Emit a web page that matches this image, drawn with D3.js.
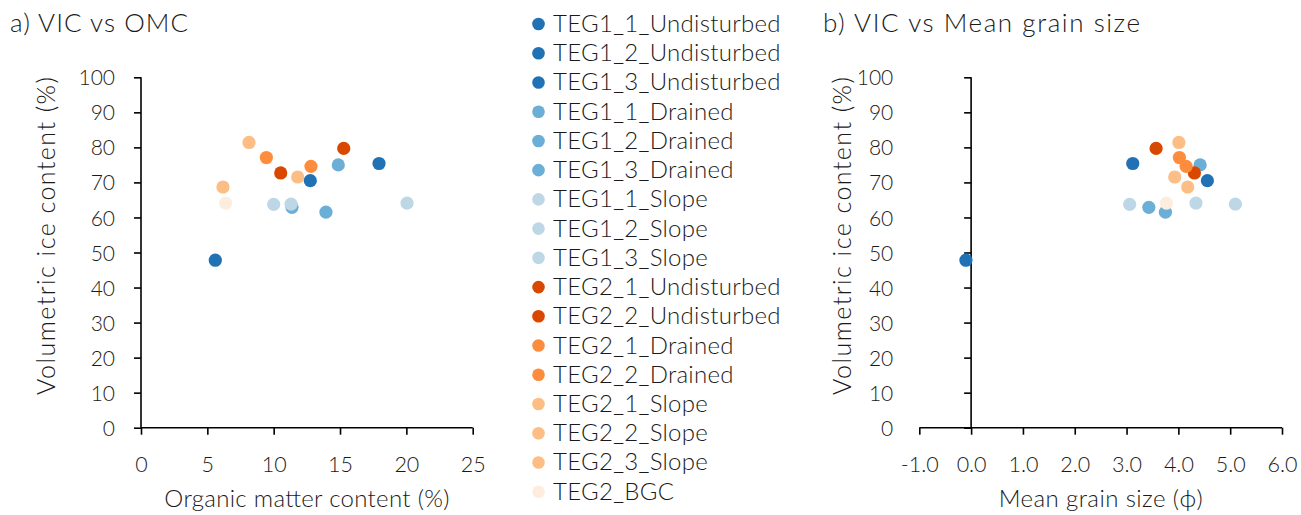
<!DOCTYPE html>
<html>
<head>
<meta charset="utf-8">
<script src="https://cdn.jsdelivr.net/npm/d3@7"></script>
<style>
  html, body { margin: 0; padding: 0; background: #fff; }
  svg text { font-family: "Lato", "Open Sans", sans-serif; font-weight: 300; fill: #1a1a1a; }
</style>
</head>
<body>
<svg id="chart" width="1301" height="515"></svg>
<script>
// ---- data ----
const seriesNames = [
  "TEG1_1_Undisturbed", "TEG1_2_Undisturbed", "TEG1_3_Undisturbed",
  "TEG1_1_Drained", "TEG1_2_Drained", "TEG1_3_Drained",
  "TEG1_1_Slope", "TEG1_2_Slope", "TEG1_3_Slope",
  "TEG2_1_Undisturbed", "TEG2_2_Undisturbed",
  "TEG2_1_Drained", "TEG2_2_Drained",
  "TEG2_1_Slope", "TEG2_2_Slope", "TEG2_3_Slope",
  "TEG2_BGC"
];
const seriesGroup = [
  "T1U", "T1U", "T1U", "T1D", "T1D", "T1D", "T1S", "T1S", "T1S",
  "T2U", "T2U", "T2D", "T2D", "T2S", "T2S", "T2S", "BGC"
];
// Organic matter content (%)
const omcValues   = [5.6, 12.76, 17.94, 14.87, 11.38, 13.94, 10.0, 11.31, 20.05, 10.53, 15.28, 9.45, 12.81, 8.14, 11.81, 6.18, 6.38];
// Volumetric ice content (%)
const vicValues   = [47.8, 70.5, 75.4, 75.0, 62.9, 61.5, 63.75, 63.8, 64.1, 72.7, 79.7, 77.1, 74.6, 81.4, 71.55, 68.7, 64.1];
// Mean grain size (phi)
const grainValues = [-0.10, 4.56, 3.12, 4.42, 3.43, 3.75, 3.06, 5.10, 4.34, 4.31, 3.57, 4.02, 4.15, 4.01, 3.93, 4.18, 3.77];

const groupKeys   = ["T1U", "T1D", "T1S", "T2U", "T2D", "T2S", "BGC"];
const groupColors = ["#2171b5", "#6baed6", "#bdd7e7", "#d94801", "#fd8d3c", "#fdbe85", "#feeddf"];

const yTicks = [0, 10, 20, 30, 40, 50, 60, 70, 80, 90, 100];
const omcTicks = [0, 5, 10, 15, 20, 25];
const grainTicks = [-1, 0, 1, 2, 3, 4, 5, 6];

const titleA = "a) VIC vs OMC";
const titleB = "b) VIC vs Mean grain size";
const yTitle = "Volumetric ice content (%)";
const xTitleA = "Organic matter content (%)";
const xTitleB = "Mean grain size (ϕ)";

// ---- build ----
const color = d3.scaleOrdinal().domain(groupKeys).range(groupColors);
const records = seriesNames.map((n, i) => ({
  name: n, group: seriesGroup[i], omc: omcValues[i], vic: vicValues[i], grain: grainValues[i]
}));

const svg = d3.select("#chart");
const textCol = "#1a1a1a";
const hyphenFmt = f => (d => f(d).replace("\u2212", "-"));

function drawPanel(opts) {
  const x = d3.scaleLinear().domain(opts.xDomain).range([opts.left, opts.right]);
  const y = d3.scaleLinear().domain([0, 100]).range([opts.bottom, opts.top]);
  const g = svg.append("g");

  const yAxisX = x(opts.yCross);
  const yAx = g.append("g")
    .attr("transform", `translate(${yAxisX},0)`)
    .call(d3.axisLeft(y).tickValues(yTicks).tickSize(7).tickFormat(d3.format("d")));
  yAx.select(".domain").attr("d", `M0,${opts.top}V${opts.bottom}`);
  yAx.selectAll("text")
    .attr("x", -(yAxisX - opts.left) - 26)
    .attr("dy", "0.36em")
    .style("font-size", "21px");

  const xAx = g.append("g")
    .attr("transform", `translate(0,${y(0)})`)
    .call(d3.axisBottom(x).tickValues(opts.xTicks).tickSize(7).tickFormat(hyphenFmt(opts.xFormat)));
  xAx.select(".domain").attr("d", `M${opts.left},0H${opts.right}`);
  xAx.selectAll("text")
    .attr("y", 44).attr("dy", 0)
    .style("font-size", "21.5px");

  g.selectAll(".domain, .tick line").attr("stroke", "#000").attr("stroke-width", 1.6);
  g.selectAll(".tick text").attr("fill", textCol);

  g.append("g").selectAll("circle")
    .data(records)
    .join("circle")
    .attr("cx", d => x(d[opts.xKey]))
    .attr("cy", d => y(d.vic))
    .attr("r", 6.6)
    .attr("fill", d => color(d.group));

  svg.append("text").attr("x", opts.titleX).attr("y", 32)
    .attr("textLength", opts.titleLen).attr("lengthAdjust", "spacing")
    .style("font-size", "26px").text(opts.title);
  svg.append("text")
    .attr("transform", `translate(${opts.yTitleX},236) rotate(-90)`)
    .attr("text-anchor", "middle")
    .attr("textLength", 318).attr("lengthAdjust", "spacing")
    .style("font-size", "25px").text(yTitle);
  svg.append("text")
    .attr("x", (opts.left + opts.right) / 2).attr("y", 507)
    .attr("text-anchor", "middle")
    .attr("textLength", opts.xTitleLen).attr("lengthAdjust", "spacing")
    .style("font-size", "24px").text(opts.xTitle);
}

drawPanel({
  xDomain: [0, 25], left: 141, right: 472.7, top: 77.3, bottom: 427.7,
  yCross: 0, xTicks: omcTicks, xFormat: d3.format("d"), xKey: "omc",
  title: titleA, titleX: 10, titleLen: 178, yTitleX: 55, xTitle: xTitleA, xTitleLen: 285
});
drawPanel({
  xDomain: [-1, 6], left: 919.3, right: 1282, top: 77.3, bottom: 427.7,
  yCross: 0, xTicks: grainTicks, xFormat: d3.format(".1f"), xKey: "grain",
  title: titleB, titleX: 823, titleLen: 317, yTitleX: 851, xTitle: xTitleB, xTitleLen: 204
});

// legend
const legend = svg.append("g");
const rowY = d3.scalePoint().domain(d3.range(seriesNames.length)).range([24, 491.7]);
const rows = legend.selectAll("g").data(records).join("g")
  .attr("transform", (d, i) => `translate(0,${rowY(i)})`);
rows.append("circle").attr("cx", 538.5).attr("cy", 0).attr("r", 6.3).attr("fill", d => color(d.group));
rows.append("text").attr("x", 553).attr("y", 8)
  .style("font-size", "24px").style("letter-spacing", "0.3px").text(d => d.name);
</script>
</body>
</html>
